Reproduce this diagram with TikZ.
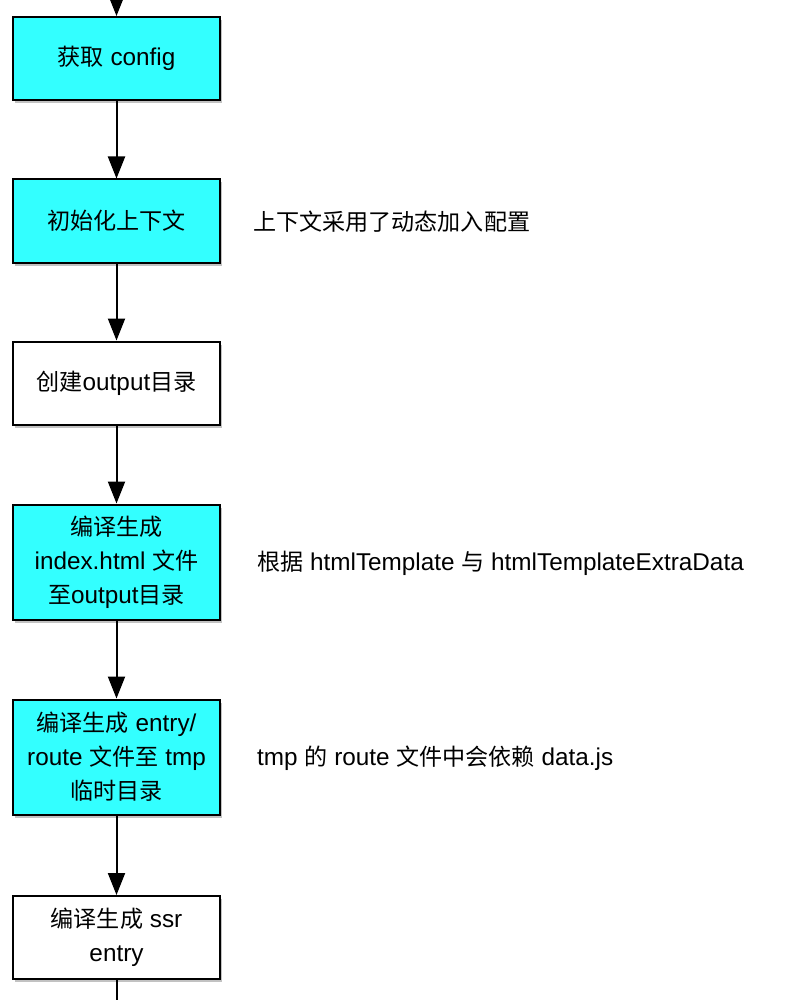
\documentclass[tikz,border=0pt]{standalone}
\usepackage{fontspec}
\setmainfont{Liberation Sans}
\newfontfamily\cjk[Scale=0.95]{Noto Sans CJK SC}
\usetikzlibrary{arrows.meta,shadows}
\definecolor{boxcyan}{RGB}{51,255,255}
\newcommand{\zh}[1]{{\cjk #1}}
\tikzset{
  flowbox/.style={draw=black, line width=2pt, minimum width=207pt, minimum height=83pt,
    align=center, font=\fontsize{24.3}{34}\selectfont, inner sep=0pt,
    drop shadow={shadow xshift=2pt, shadow yshift=-3pt, opacity=0.4, fill=black!60}},
  cyanbox/.style={flowbox, fill=boxcyan},
  whitebox/.style={flowbox, fill=white},
  longbox/.style={minimum height=115pt},
  note/.style={anchor=west, font=\fontsize{24.3}{28}\selectfont, inner sep=0pt},
  flow/.style={line width=2pt, -{Triangle[length=22pt,width=17pt]}}
}
\begin{document}
\begin{tikzpicture}[x=1pt,y=-1pt]
\useasboundingbox (0,0) rectangle (794,1000);
\node[cyanbox] (b1) at (116.5,58.5) {\zh{获取} config};
\node[cyanbox] (b2) at (116.5,221) {\zh{初始化上下文}};
\node[whitebox] (b3) at (116.5,383) {\zh{创建}output\zh{目录}};
\node[cyanbox,longbox] (b4) at (116.5,562) {\zh{编译生成}\\index.html \zh{文件}\\\zh{至}output\zh{目录}};
\node[cyanbox,longbox] (b5) at (116.5,757) {\zh{编译生成} entry/\\route \zh{文件至} tmp\\\zh{临时目录}};
\node[whitebox] (b6) at (116.5,937.5) {\zh{编译生成} ssr\\entry};
\coordinate (top) at (116.5,-20);
\coordinate (bottom) at (116.5,1030);
\node[note] (n2) at (253,222) {\zh{上下文采用了动态加入配置}};
\node[note] (n4) at (257,563) {\zh{根据} htmlTemplate \zh{与} htmlTemplateExtraData};
\node[note] (n5) at (257,758) {tmp \zh{的} route \zh{文件中会依赖} data.js};
\draw[flow] (top) -- (b1);
\draw[flow] (b1) -- (b2);
\draw[flow] (b2) -- (b3);
\draw[flow] (b3) -- (b4);
\draw[flow] (b4) -- (b5);
\draw[flow] (b5) -- (b6);
\draw[line width=2pt] (b6) -- (bottom);
\end{tikzpicture}
\end{document}
